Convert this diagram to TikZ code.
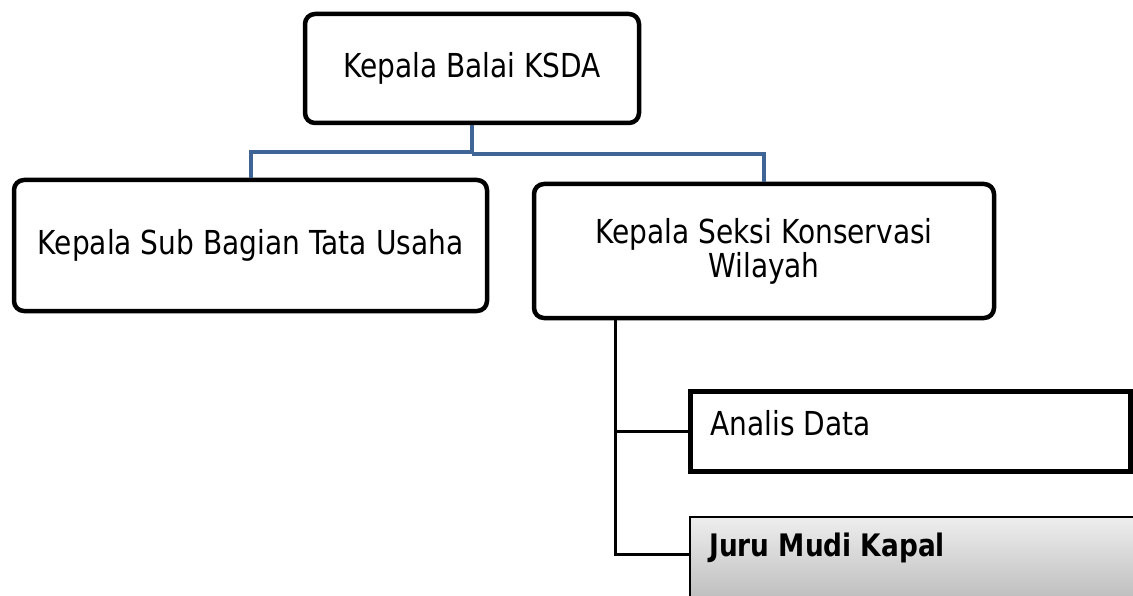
\documentclass[tikz,border=0pt]{standalone}
\usepackage{fontspec}
\setmainfont[FakeStretch=0.85]{DejaVu Sans}
\usetikzlibrary{calc,shadings}
\definecolor{conblue}{RGB}{63,101,150}
\definecolor{gtop}{RGB}{238,238,238}
\definecolor{gbot}{RGB}{168,168,168}
\tikzset{
  rbox/.style={draw=black, line width=4.5pt, rounded corners=10pt, align=center, inner sep=0pt, font=\fontsize{33}{34}\selectfont},
  sbox/.style={draw=black, line width=4.5pt, inner sep=0pt},
  gbox/.style={draw=black, line width=1.6pt, inner sep=0pt, top color=gtop, bottom color=gbot},
  blueline/.style={draw=conblue, line width=4pt},
  blackline/.style={draw=black, line width=3pt},
  lbl/.style={anchor=west, inner sep=0pt, font=\fontsize{33}{34}\selectfont}
}
\begin{document}
\begin{tikzpicture}[x=1pt,y=-1pt]
\useasboundingbox[fill=white] (0,0) rectangle (1133,596);
\node[rbox, minimum width=334pt, minimum height=109pt] (top) at (472,68.5) {Kepala Balai KSDA};
\node[rbox, minimum width=473pt, minimum height=131pt] (sub) at (250.5,245.5) {Kepala Sub Bagian Tata Usaha};
\node[rbox, minimum width=460pt, minimum height=134pt] (seksi) at (764,251) {Kepala Seksi Konservasi\\Wilayah};
\node[sbox, minimum width=440pt, minimum height=80pt] (analis) at (910.5,431.5) {};
\node[gbox, minimum width=460pt, minimum height=120pt] (juru) at (920,577) {};
\node[lbl] (analislbl) at ($(analis.west)+(22,-8)$) {Analis Data};
\node[lbl, font=\fontsize{31}{34}\selectfont\bfseries] (jurulbl) at ($(juru.north west)+(20,32)$) {Juru Mudi Kapal};
\coordinate (split) at ($(top.south)+(0,27)$);
\coordinate (splitr) at ($(top.south)+(0,29)$);
\draw[blueline] (top.south) -- (splitr);
\draw[blueline] (split) -| (sub.north);
\draw[blueline] (splitr) -| (seksi.north);
\coordinate (stem) at ($(seksi.south west)+(84,0)$);
\coordinate (jurujoin) at ($(juru.north west)+(0,38)$);
\draw[blackline] (stem) |- (analis.west);
\draw[blackline] (stem) |- (jurujoin);
\end{tikzpicture}
\end{document}
